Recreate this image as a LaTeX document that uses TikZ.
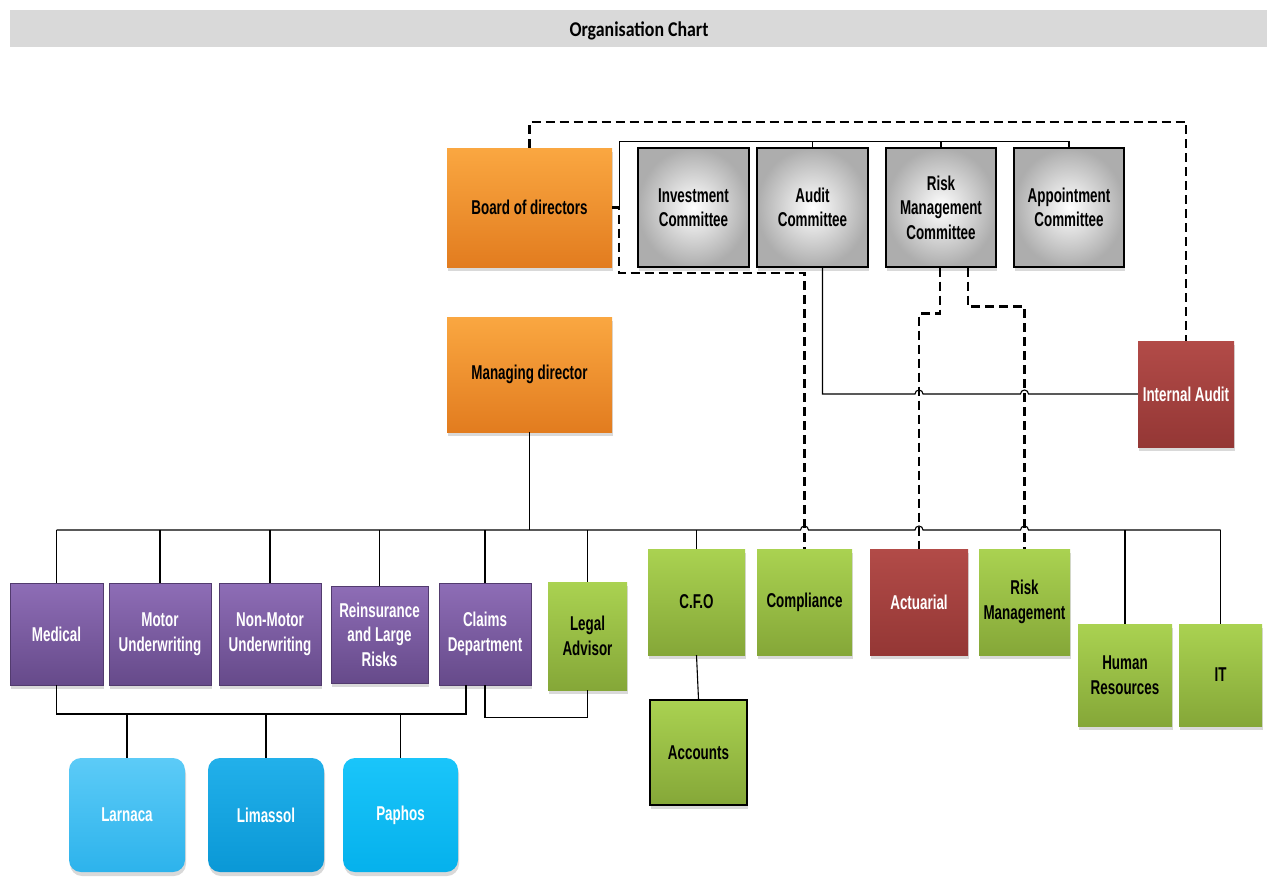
\documentclass[tikz,border=0pt]{standalone}
\usepackage{fontspec}
\setmainfont{Liberation Sans}[FakeStretch=0.67]
\newfontfamily\titlefont{Carlito}[FakeStretch=0.85]
\usetikzlibrary{shadows,calc}

\definecolor{orangetop}{HTML}{FAA741}
\definecolor{orangebot}{HTML}{E27C1F}
\definecolor{purpletop}{HTML}{8E6DB6}
\definecolor{purplebot}{HTML}{664A8A}
\definecolor{greentop}{HTML}{AAD251}
\definecolor{greenbot}{HTML}{85A738}
\definecolor{redtop}{HTML}{B24B48}
\definecolor{redbot}{HTML}{943735}
\definecolor{larnacatop}{HTML}{5CCBF7}
\definecolor{larnacabot}{HTML}{2DB3EC}
\definecolor{limassoltop}{HTML}{22B0EA}
\definecolor{limassolbot}{HTML}{0A98D6}
\definecolor{paphostop}{HTML}{1AC5FA}
\definecolor{paphosbot}{HTML}{05B1EC}
\definecolor{titlegrey}{HTML}{D9D9D9}

\tikzset{
  boxbase/.style={inner sep=1pt, align=center,
    font=\fontsize{20}{24.5}\selectfont\bfseries,
    drop shadow={shadow xshift=1pt, shadow yshift=-4pt, opacity=0.3}},
  orangebox/.style={boxbase, top color=orangetop, bottom color=orangebot},
  greybox/.style={boxbase, inner color=white, outer color=black!32,
    draw=black, line width=1.3pt},
  purplebox/.style={boxbase, top color=purpletop, bottom color=purplebot,
    draw=purplebot!80!black, text=white},
  greenbox/.style={boxbase, top color=greentop, bottom color=greenbot},
  redbox/.style={boxbase, top color=redtop, bottom color=redbot, text=white},
  bluebox/.style={boxbase, rounded corners=12pt, text=white,
    top color=#1top, bottom color=#1bot},
  link/.style={line width=1.1pt},
  dashlink/.style={line width=2.4pt, dash pattern=on 9pt off 5pt}
}

\begin{document}
\begin{tikzpicture}[x=1pt,y=-1pt]

\useasboundingbox (0,0) rectangle (1267,889);

% title
\fill[titlegrey] (10,10) rectangle (1267,47);
\node[font=\titlefont\fontsize{21}{24}\selectfont\bfseries] (title) at (639,31) {Organisation Chart};

% board level
\node[orangebox, minimum width=165, minimum height=119] (board) at (529.5,207.5) {Board of directors};
\node[orangebox, minimum width=165, minimum height=115] (md) at (529.5,374.5) {Managing director};

\node[greybox, minimum width=111, minimum height=119] (invest) at (693.5,207.5) {Investment\\Committee};
\node[greybox, minimum width=111, minimum height=119] (audit) at (812.5,207.5) {Audit\\Committee};
\node[greybox, minimum width=110, minimum height=119] (riskc) at (941,207.5) {Risk\\Management\\Committee};
\node[greybox, minimum width=110, minimum height=119] (appoint) at (1069,207.5) {Appointment\\Committee};

\node[redbox, minimum width=96, minimum height=106] (intaudit) at (1186,394) {Internal Audit};

% departments
\node[purplebox, minimum width=93, minimum height=102] (medical) at (56.5,634) {Medical};
\node[purplebox, minimum width=102, minimum height=102] (motor) at (160,634) {Motor\\Underwriting};
\node[purplebox, minimum width=102, minimum height=102] (nonmotor) at (270,634) {Non-Motor\\Underwriting};
\node[purplebox, minimum width=97, minimum height=97] (reins) at (379.5,634.5) {Reinsurance\\and Large\\Risks};
\node[purplebox, minimum width=92, minimum height=102] (claims) at (485,634) {Claims\\Department};
\node[greenbox, minimum width=79, minimum height=108] (legal) at (587.5,636) {Legal\\Advisor};

\node[greenbox, minimum width=97, minimum height=106] (cfo) at (696.5,602) {C.F.O};
\node[greenbox, minimum width=95, minimum height=106] (compl) at (804.5,602) {Compliance};
\node[redbox, minimum width=98, minimum height=106] (actu) at (919,602) {Actuarial};
\node[greenbox, minimum width=91, minimum height=106] (riskm) at (1024.5,602) {Risk\\Management};
\node[greenbox, minimum width=94, minimum height=102] (hr) at (1125,675) {Human\\Resources};
\node[greenbox, minimum width=83, minimum height=102] (it) at (1220.5,675) {IT};
\node[greenbox, draw=black, line width=1.5pt, minimum width=97, minimum height=105] (accounts) at (698.5,752.5) {Accounts};

% branches
\node[bluebox=larnaca, minimum width=116, minimum height=114] (larnaca) at (127,815) {Larnaca};
\node[bluebox=limassol, minimum width=116, minimum height=114] (limassol) at (266,815) {Limassol};
\node[bluebox=paphos, minimum width=115, minimum height=114] (paphos) at (400.5,815) {Paphos};

\coordinate (bus) at (0,530);
\coordinate (locbus) at (0,714);

% solid lines
\draw[link] (board.east) -- ++(7,0) |- ($(appoint.north)+(0,-6)$) -- (appoint.north);
\foreach \n in {audit,riskc}
    \draw[link] (\n.north) -- ++(0,-6);

\draw[link] ($(audit.south)+(10,0)$) |- ($(actu.north |- intaudit.west)+(-4,0)$)
    arc[start angle=180, end angle=0, radius=4pt]
    -- ($(riskm.north |- intaudit.west)+(-4,0)$)
    arc[start angle=180, end angle=0, radius=4pt] -- (intaudit.west);

\draw[link] (md.south) -- (md.south |- bus);
\draw[link] (medical.north |- bus) -- ($(compl.north |- bus)+(-4,0)$)
    arc[start angle=180, end angle=0, radius=4pt]
    -- ($(actu.north |- bus)+(-4,0)$)
    arc[start angle=180, end angle=0, radius=4pt]
    -- ($(riskm.north |- bus)+(-4,0)$)
    arc[start angle=180, end angle=0, radius=4pt] -- (it.north |- bus);

\foreach \n in {medical,motor,nonmotor,reins,claims,legal,cfo,hr,it}
    \draw[link] (\n.north) -- (\n.north |- bus);

\draw[link] (cfo.south) -- (accounts.north);

\coordinate (cl) at ($(claims.south)+(-19,0)$);
\draw[link] (medical.south) -- (medical.south |- locbus) -| (cl);
\foreach \n in {larnaca,limassol,paphos}
    \draw[link] (\n.north) -- (\n.north |- locbus);
\draw[link] (claims.south) -- ++(0,32) -| (legal.south);

% dashed lines
\draw[dashlink] (board.north) -- ++(0,-26) -| (intaudit.north);
\draw[dashlink] (board.east) -| ++(7,65.5) -| (compl.north);
\draw[dashlink] ($(riskc.south)+(-1,0)$) -- ++(0,46) -| (actu.north);
\draw[dashlink] ($(riskc.south)+(27,0)$) -- ++(0,39) -| (riskm.north);

\end{tikzpicture}
\end{document}
